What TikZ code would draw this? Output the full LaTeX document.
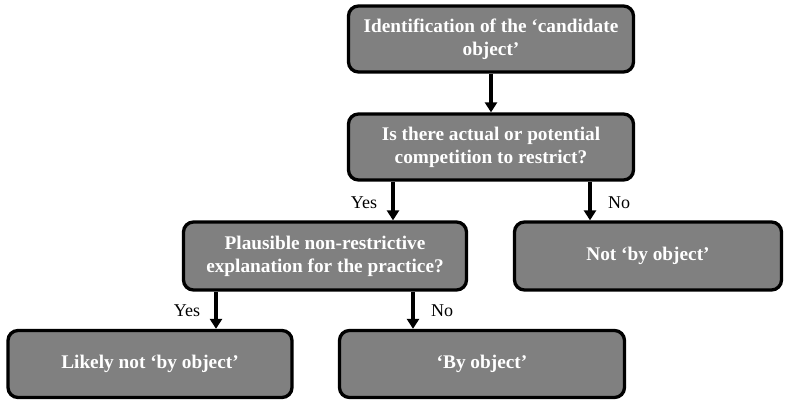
\documentclass[tikz,border=0pt]{standalone}
\usepackage{fontspec}
\setmainfont{Liberation Serif}
\usetikzlibrary{arrows.meta}
\definecolor{boxgray}{RGB}{128,128,128}
\tikzset{
  flowbox/.style={draw=black, line width=3.3pt, fill=boxgray, rounded corners=10pt,
    text=white, font=\fontsize{19.3}{23}\selectfont\bfseries, align=center,
    inner sep=0pt},
  flowarrow/.style={draw=black, line width=3.2pt, -{Triangle[length=10pt,width=12pt]}},
  answer/.style={font=\fontsize{18}{21}\selectfont, text=black, inner sep=0pt}
}
\begin{document}
\begin{tikzpicture}[x=1pt,y=-1pt]
\useasboundingbox (0,0) rectangle (793,400);
\node[flowbox, minimum width=285, minimum height=66] (ident) at (491,39) {Identification of the ‘candidate\\object’};
\node[flowbox, minimum width=285, minimum height=66] (comp) at (491,147) {Is there actual or potential\\competition to restrict?};
\node[flowbox, minimum width=283, minimum height=68] (plaus) at (325,256) {Plausible non-restrictive\\explanation for the practice?};
\node[flowbox, minimum width=267, minimum height=68] (notobj) at (648,256) {Not ‘by object’};
\node[flowbox, minimum width=284, minimum height=67] (likely) at (150,364) {Likely not ‘by object’};
\node[flowbox, minimum width=285, minimum height=67] (byobj) at (482,364) {‘By object’};
\draw[flowarrow] (ident.south) -- (comp.north);
\draw[flowarrow] (comp.south -| 393,0) -- (plaus.north -| 393,0);
\draw[flowarrow] (comp.south -| 590,0) -- (notobj.north -| 590,0);
\draw[flowarrow] (plaus.south -| 216,0) -- (likely.north -| 216,0);
\draw[flowarrow] (plaus.south -| 413,0) -- (byobj.north -| 413,0);
\node[answer] (y1) at (364,203) {Yes};
\node[answer] (n1) at (619,203) {No};
\node[answer] (y2) at (187,311) {Yes};
\node[answer] (n2) at (442,311) {No};
\end{tikzpicture}
\end{document}
